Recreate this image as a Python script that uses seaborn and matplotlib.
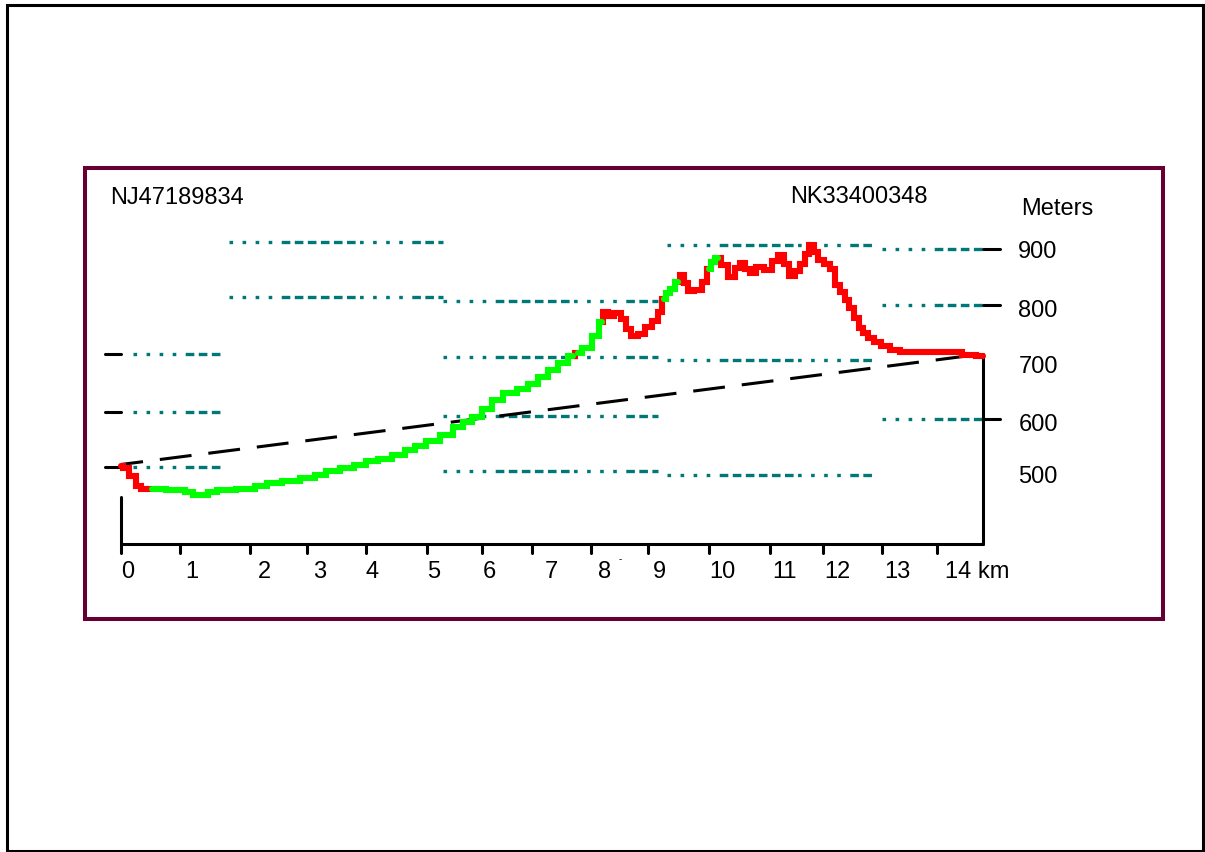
import pandas as pd
import matplotlib
matplotlib.use('Agg')
import matplotlib.pyplot as plt
import seaborn as sns
from matplotlib.patches import Rectangle

# terrain profile: distance (km) and height (m)
dist_km = [0.00, 0.07, 0.21, 0.29, 0.38, 0.53, 1.01, 1.18, 1.30, 1.44, 1.56, 1.73,
           2.21, 2.38, 2.64, 2.90, 3.24, 3.41, 3.64, 3.88, 4.10, 4.32, 4.49, 4.79,
           4.96, 5.13, 5.35, 5.59, 5.81, 5.93, 6.11, 6.28, 6.45, 6.67, 6.90, 7.07,
           7.24, 7.41, 7.58, 7.75, 7.84, 7.99, 8.16, 8.25, 8.30, 8.39, 8.52, 8.64,
           8.70, 8.78, 8.94, 9.04, 9.16, 9.25, 9.31, 9.38, 9.47, 9.55, 9.61, 9.69,
           9.76, 9.90, 10.02, 10.09, 10.15, 10.24, 10.36, 10.48, 10.58, 10.67, 10.75,
           10.84, 10.96, 11.10, 11.22, 11.32, 11.41, 11.51, 11.61, 11.70, 11.75,
           11.84, 11.92, 11.99, 12.11, 12.21, 12.28, 12.37, 12.45, 12.54, 12.62,
           12.68, 12.76, 12.85, 12.97, 13.10, 13.28, 13.45, 14.31, 14.53, 14.79]
height_m = [519, 516, 502, 484, 479, 479, 477, 474, 468, 468, 474, 477,
            479, 484, 490, 493, 498, 504, 511, 516, 521, 528, 532, 539,
            547, 554, 563, 574, 588, 597, 605, 619, 635, 647, 654, 663,
            675, 688, 700, 712, 718, 726, 747, 772, 789, 782, 788, 777,
            760, 747, 751, 763, 774, 789, 812, 823, 830, 842, 854, 840,
            826, 828, 842, 865, 877, 884, 872, 851, 867, 875, 865,
            858, 868, 863, 879, 889, 874, 853, 861, 874, 891,
            907, 895, 881, 874, 865, 837, 825, 811, 797, 779,
            761, 753, 744, 737, 730, 723, 719, 719, 714, 712]
# points where the profile switches colour (starts red = hidden)
switch_idx = [5, 39, 40, 43, 54, 57, 63, 65]

# line of sight between the two grid references
sight_km = [0.0, 14.79]
sight_m = [522, 716]

# teal height lines drawn in blocks
grid_x0 = [0.2, 0.2, 0.2, 1.85, 1.85, 5.52, 5.52, 5.52, 5.52,
           9.37, 9.37, 9.37, 13.05, 13.05, 13.05]
grid_x1 = [1.70, 1.70, 1.70, 5.52, 5.52, 9.21, 9.21, 9.21, 9.21,
           12.92, 12.92, 12.92, 14.79, 14.79, 14.79]
grid_m = [716, 614, 518, 912, 816, 809, 711, 607, 511,
          907, 705, 504, 900, 802, 602]

left_ticks_m = [716, 614, 518]
right_ticks_m = [900, 802, 602]

# x axis
xtick_km = [0, 1.01, 2.21, 3.19, 4.20, 5.25, 6.19, 7.05, 8.06, 9.04,
            10.09, 11.13, 12.04, 13.05, 14.0]
xlabel_km = [0.0, 1.11, 2.35, 3.29, 4.20, 5.25, 6.21, 7.26, 8.18, 9.13,
             10.09, 11.17, 12.06, 13.09, 14.13]
xlabels = ['0', '1', '2', '3', '4', '5', '6', '7', '8', '9',
           '10', '11', '12', '13', '14 km']

# y axis labels
ylabels = ['900', '800', '700', '600', '500']
ylabel_m = [896, 793, 695, 593, 502]

sns.set_theme(style='white')
plt.rcParams['font.family'] = ['Liberation Sans', 'DejaVu Sans']
plt.rcParams['lines.scale_dashes'] = False

fig = plt.figure(figsize=(12.05, 8.53), dpi=100)
ax = fig.add_axes([0, 0, 1, 1])
ax.set_xlim(-2.075, 18.593)
ax.set_ylim(-157.7, 1338.5)
ax.axis('off')

# outer border and maroon frame
fig.patches.append(Rectangle((0.0062, 0.0015), 0.9925, 0.991, transform=fig.transFigure,
                             fill=False, edgecolor='black', linewidth=2.2))
fig.patches.append(Rectangle((0.0705, 0.2732), 0.895, 0.5287, transform=fig.transFigure,
                             fill=False, edgecolor='#660033', linewidth=2.9))

# teal height lines: groups of dots and dashes
grid_dash = (0, (2.6, 6.8) * 4 + (6.2, 3.2) * 6)
for x0, x1, m in zip(grid_x0, grid_x1, grid_m):
    ax.plot([x0, x1], [m, m], color='#007878', linewidth=2.4, linestyle=grid_dash,
            dash_capstyle='butt')

# axes lines and ticks
axis_m = 382.6
ax.plot([0, 0], [465, axis_m], color='black', linewidth=2.2)
ax.plot([0, 14.79], [axis_m, axis_m], color='black', linewidth=2.2)
ax.plot([14.79, 14.79], [716, axis_m], color='black', linewidth=2.2)
for t in xtick_km:
    ax.plot([t, t], [axis_m, 366], color='black', linewidth=2.2)
for m in left_ticks_m:
    ax.plot([-0.27, 0], [m, m], color='black', linewidth=2.2)
for m in right_ticks_m:
    ax.plot([14.79, 15.08], [m, m], color='black', linewidth=2.2)

# line of sight
ax.plot(sight_km, sight_m, color='black', linewidth=2.2,
        linestyle=(7, (23, 12.2)), dash_capstyle='butt')

# profile, coloured by visibility
bounds = [0] + switch_idx + [len(dist_km) - 1]
rows = []
for k in range(len(bounds) - 1):
    state = 'hidden' if k % 2 == 0 else 'visible'
    for i in range(bounds[k], bounds[k + 1] + 1):
        rows.append({'km': dist_km[i], 'm': height_m[i], 'seg': k, 'state': state})
profile = pd.DataFrame(rows)
sns.lineplot(data=profile, x='km', y='m', units='seg', hue='state', estimator=None,
             sort=False, palette={'hidden': '#ff0000', 'visible': '#00ff00'},
             linewidth=4.4, drawstyle='steps-mid', solid_joinstyle='miter',
             legend=False, ax=ax)
ax.set_xlabel('')
ax.set_ylabel('')

# texts
fs = 17
for x, lab in zip(xlabel_km, xlabels):
    ax.text(x, 336, lab, ha='left', va='center', fontsize=fs, color='black')
ax.text(8.53, 357, '-', ha='left', va='center', fontsize=7, color='black')
for m, lab in zip(ylabel_m, ylabels):
    ax.text(15.39, m, lab, ha='left', va='center', fontsize=fs, color='black')
ax.text(15.44, 972, 'Meters', ha='left', va='center', fontsize=fs, color='black')
ax.text(-0.19, 991, 'NJ47189834', ha='left', va='center', fontsize=fs, color='black')
ax.text(11.47, 993, 'NK33400348', ha='left', va='center', fontsize=fs, color='black')

fig.savefig('out.png', dpi=100, facecolor='white')
